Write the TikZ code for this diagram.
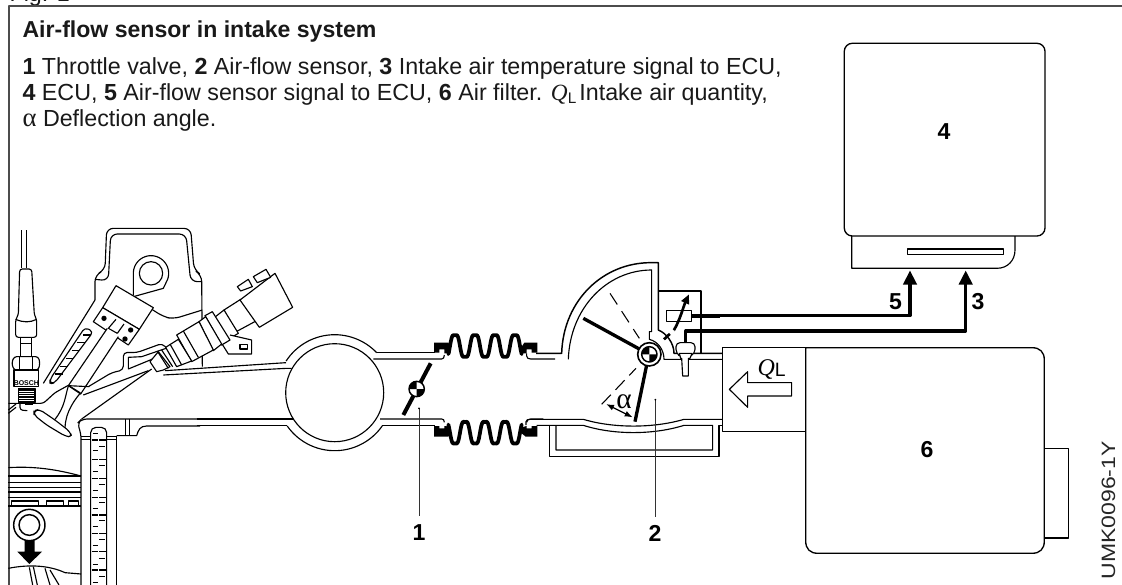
\documentclass[tikz,border=0pt]{standalone}
\usepackage{fontspec}
\setmainfont{Liberation Sans}
\newfontfamily\serifit{Liberation Serif}
\usetikzlibrary{arrows.meta}
\tikzset{
 zA/.style={shift={(0pt,-165pt)},x=.25pt,y=-.25pt},
 zB/.style={shift={(0pt,-300pt)},x=.25pt,y=-.25pt},
 zC/.style={shift={(195pt,-240pt)},x=.25pt,y=-.25pt},
 zD/.style={shift={(390pt,-187.5pt)},x=.25pt,y=-.25pt},
 zE/.style={shift={(0pt,-262.5pt)},x=.25pt,y=-.25pt},
 ln/.style={line width=.85pt,line join=round},
 fr/.style={line width=1.5pt,draw=black!70},
 wire/.style={line width=2.3pt,-{Triangle[length=10.5pt,width=10pt]}},
 wirep/.style={line width=2.3pt},
 num/.style={font=\fontsize{17.3}{17.3}\selectfont\bfseries,inner sep=0pt},
 txt/.style={font=\fontsize{17.45}{18}\selectfont,anchor=base west,inner sep=0pt,text=black!90},
 leader/.style={line width=.7pt,draw=black!80},
 bell/.style={line width=2.8pt,line cap=round},
 thickl/.style={line width=3pt},
}
\newcommand{\checker}[3]{%
 \fill[white] (#1,#2) circle[radius=#3];
 \fill plot[domain=90:180,samples=12] ({#1+#3*cos(\x)},{#2-#3*sin(\x)}) -- (#1,#2) -- cycle;
 \fill plot[domain=270:360,samples=12] ({#1+#3*cos(\x)},{#2-#3*sin(\x)}) -- (#1,#2) -- cycle;
 \draw[line width=1.1pt] (#1,#2) circle[radius=#3];
}
\begin{document}
\begin{tikzpicture}[x=.75pt,y=-.75pt,ln]
\useasboundingbox (0,0) rectangle (1122,585);
\begin{scope}
\clip (0,0) rectangle (1122,585);
\node[txt] (figlabel) at (9,1.5) {Fig. 1};
\draw[fr] (1122,6.5) -- (9,6.5) -- (9,585);

% texts
\node[txt,font=\fontsize{17.3}{18}\selectfont\bfseries] (title) at (22,37.5) {Air-flow sensor in intake system};
\node[txt] (l1) at (22,75) {\textbf{1} Throttle valve, \textbf{2} Air-flow sensor, \textbf{3} Intake air temperature signal to ECU,};
\node[txt] (l2) at (22,100.5) {\textbf{4} ECU, \textbf{5} Air-flow sensor signal to ECU, \textbf{6} Air filter. {\serifit\itshape Q}{\fontsize{11.5}{11.5}\selectfont\raisebox{-2pt}{L}}\hspace{-2.5pt} Intake air quantity,};
\node[txt] (l3) at (22,126.5) {{\serifit\fontsize{20}{20}\selectfont α} Deflection angle.};

% ECU
\draw[line width=1pt,rounded corners=6pt] (844.3,43.3) rectangle (1045,236);
\draw (851.7,236) -- (851.7,268.3) -- (997,268.3) .. controls (1008,268.3) and (1015,260) .. (1015,250) -- (1015,236);
\draw (907.3,249) rectangle (1003.3,254.3);
\node[num] (n4) at (944,132) {4};
% filter
\draw[line width=1pt] (805.7,347.7) -- (1032,347.7) .. controls (1040,347.7) and (1044.3,352) .. (1044.3,360) -- (1044.3,541) .. controls (1044.3,549) and (1040,553.3) .. (1032,553.3) -- (818,553.3) .. controls (810,553.3) and (805.7,549) .. (805.7,541) -- cycle;
\draw (722.5,347.7) rectangle (805.7,431.7);
\draw (1044.3,448.7) -- (1068.5,448.7) -- (1068.5,538) -- (1044.3,538);
\node[num] (n6) at (927,450) {6};
\begin{scope}[shift={(525pt,-247.5pt)},x=.25pt,y=-.25pt]
 \draw (88,178) -- (143,125) -- (143,158) -- (275,158) -- (275,198) -- (143,198) -- (143,232) -- cycle;
\end{scope}
\node[inner sep=0pt,anchor=base west] (ql) at (757,375) {\fontsize{18}{18}\serifit\itshape Q\fontsize{14.5}{14.5}\normalfont\raisebox{-1pt}{L}};
\node[rotate=90,anchor=base west,inner sep=0pt,font=\fontsize{14.5}{14.5}\selectfont,text=black!85] (code) at (1115,580) {\scalebox{1.19}[1]{UMK0096-1Y}};

% wires
\coordinate (w5a) at (692,315.7);
\coordinate (w5b) at (910,315.7);
\coordinate (w5c) at (910,270.5);
\coordinate (w3a) at (685.7,331);
\coordinate (w3b) at (965.7,331);
\coordinate (w3c) at (965.7,270.5);
\draw[wire] (w5a) -- (w5b) -- (w5c);
\draw[wire] (w3a) -- (w3b) -- (w3c);
\node[num] (n5) at (895.5,302) {5};
\node[num] (n3) at (978,302) {3};

% engine (zoom A frame)
\begin{scope}[zA]
 % cam cover
 \draw[rounded corners=5pt] (285,240) -- (285,165) -- (315,150) -- (320,25) -- (572,25) -- (582,150) -- (605,165) -- (607,440);
 \draw[rounded corners=5pt] (285,178) -- (325,182) -- (332,42) -- (558,42) -- (572,185) -- (605,185);
 \draw (285,240) -- (130,490);
 \draw (400,225) -- (400,160) plot[domain=180:-20,samples=30] ({453+53*cos(\x)},{160-53*sin(\x)}) -- (490,205) -- (400,230);
 \draw (453,160) circle[radius=35];
 \draw[rounded corners=5pt] (440,258) -- (490,290) -- (520,297) -- (607,270);
 % upper port
 \draw (490,465) -- (860,445) -- (875,445);
 \draw (495,452) -- (858,428);
 \draw (245,597) -- (455,447);
 \draw (250,525) -- (445,452);
 \draw[rounded corners=3pt] (265,500) -- (335,458) -- (370,450) -- (370,397) -- (410,398) -- (487,370) -- (500,385);
 \draw (385,447) -- (385,412) -- (425,410) -- (498,385);
 \draw (385,447) -- (470,412);
 % injector left
 \draw[fill=white] (348,197) -- (460,263) -- (418,328) -- (308,263) -- cycle;
 \draw[fill=white] (308,263) -- (418,328) -- (385,375) -- (280,305) -- cycle;
 \fill (312,295) circle[radius=8] (392,330) circle[radius=8] (375,357) circle[radius=8];
 \draw (348,298) -- (325,325) (372,312) -- (352,340) (352,340) -- (325,325);
 \draw[fill=white] (322,325) -- (205,497) -- (242,522) -- (355,350);
 \draw (268,500) -- (205,497);
 % scale tube
 \draw[rounded corners=3pt,fill=white] (255,322) -- (280,335) -- (165,488) -- (150,492) -- (150,478) -- cycle;
 \foreach \y/\a/\b in {345/250/272,368/232/255,392/215/238,415/198/220,440/180/205,462/165/188}
   \draw (\a,\y) -- (\b,\y);
 % fuel injector right
 \draw[fill=white] (672,270) -- (722,238) -- (768,303) -- (705,337) -- cycle;
 \draw[fill=white] (720,240) -- (825,160) -- (878,262) -- (778,322) -- cycle;
 \draw[fill=white] (712,200) -- (745,178) -- (757,200) -- (722,213) -- cycle;
 \draw[fill=white] (760,170) -- (798,148) -- (812,172) -- (772,188) -- cycle;
 \draw[fill=white] (640,295) -- (672,270) -- (715,340) -- (665,370) -- cycle;
 \draw[fill=white] (690,345) -- (755,360) -- (755,402) -- (685,402) -- (665,370);
 \draw (720,373) rectangle (742,387);
 \draw[fill=white] (615,287) -- (637,275) -- (690,360) -- (665,375) -- cycle;
 \draw[fill=white] (597,305) -- (617,290) -- (665,372) -- (640,392) -- cycle;
 \draw[fill=white] (530,345) -- (597,305) -- (640,390) -- (575,425) -- cycle;
 \draw (550,333) -- (595,412);
 \draw[fill=white] (497,382) -- (535,358) -- (575,423) -- (530,440) -- cycle;
 \draw (510,372) -- (545,435);
 \draw[fill=white] (450,425) -- (475,395) -- (510,440) -- (490,450) -- (470,455) -- cycle;
 \draw (485,390) -- (518,440) (475,398) -- (505,445);
 % spark plug
 \draw (65,30) -- (65,145) (80,30) -- (80,145);
 \draw[rounded corners=2pt,fill=white] (47,352) -- (47,298) -- (55,285) -- (59,147) -- (95,147) -- (103,285) -- (110,298) -- (110,352) -- cycle;
 \draw (47,298) .. controls (70,308) and (90,308) .. (110,298);
 \draw[fill=white] (62,352) rectangle (95,410);
 \draw (62,370) -- (95,370);
 \draw[rounded corners=2pt,fill=white] (42,410) -- (115,410) -- (120,430) -- (115,450) -- (42,450) -- (35,430) -- cycle;
 \draw (58,412) -- (58,448) (98,412) -- (98,448);
 \draw[fill=white] (42,450) rectangle (115,500);
 \node[inner sep=0pt,font=\fontsize{5.2}{5.2}\selectfont\bfseries] (bosch) at (79,489) {BOSCH};
 \draw[fill=white] (55,505) rectangle (105,547);
 \foreach \y in {510,517,524,531,538,545} \draw[line width=.9pt] (55,\y) -- (105,\y);
 \draw[rounded corners=2pt] (60,548) -- (60,570) -- (82,572);
 \draw (75,553) -- (100,553);
\end{scope}

% valve area (zoom E frame)
\begin{scope}[zE]
 \draw[rounded corners=2pt] (25,160) -- (130,160) -- (165,128) -- (205,106);
 \draw (205,106) -- (240,128);
 \draw (205,108) .. controls (195,140) and (195,170) .. (165,208);
 \draw (242,128) .. controls (215,160) and (190,200) .. (196,252);
 \draw[rounded corners=3pt,fill=white] (102,182) -- (118,178) -- (165,210) -- (210,245) -- (216,262) -- (195,258) -- (140,225) -- (102,195) -- cycle;
 \draw (25,180) -- (48,162) (25,190) -- (48,172);
\end{scope}

% cylinder (zoom B frame)
\begin{scope}[zB]
 \draw[rounded corners=4pt] (600,57) -- (245,57) -- (232,70) -- (243,100) -- (243,555);
 \draw (243,110) -- (350,110) (243,118) -- (350,118) (350,110) -- (350,555);
 \draw (350,107) -- (410,107) .. controls (415,90) and (420,78) .. (440,78) -- (600,78);
 \draw (376,57) -- (376,107) (388,57) -- (388,107);
 \draw[rounded corners=4pt,fill=white] (272,590) -- (272,82) -- (320,82) -- (320,590);
 \foreach \y in {120,178,235,292,345,400,455,510} \draw (275,\y) -- (295,\y) (298,\y) -- (318,\y);
 \foreach \y in {101,150,214,272,326,380,437,492,548} \draw[line width=.7pt] (278,\y) -- (294,\y);
 \foreach \y in {140,196,254,308,362,418,475,530} \draw[line width=.7pt] (298,\y) -- (316,\y);
 % piston
 \draw (25,203) .. controls (100,198) and (170,208) .. (243,228);
 \draw (25,228) -- (243,228) (25,263) -- (243,263) (25,276) -- (243,276) (25,318) -- (243,318);
 \draw[line width=1.2pt] (25,247) -- (243,247);
 \draw[line width=1.2pt] (25,292) -- (243,292);
 \draw (35,303) rectangle (115,316) (140,303) rectangle (190,316) (205,303) rectangle (235,316);
 \draw[line width=1.1pt] (88,375) circle[radius=47] (88,375) circle[radius=31];
 \fill (74,420) -- (104,420) -- (104,455) -- (126,455) -- (88,492) -- (52,455) -- (74,455) -- cycle;
 \draw (25,505) .. controls (90,492) and (150,497) .. (195,518) -- (243,522);
 \draw (88,502) -- (98,555) (100,500) -- (112,555) (135,505) -- (150,555) (150,510) -- (177,555);
\end{scope}

% manifold
\draw plot[domain=147:43.6,samples=30] ({334.7+58*cos(\x)},{392.7-58*sin(\x)});
\draw plot[domain=215:325,samples=30] ({334.7+58*cos(\x)},{392.7-58*sin(\x)});
\draw (334.7,392.7) circle[radius=49];
\begin{scope}[zC]
 \draw (-190,297) -- (100,297);
 \draw (-190,317) -- (80,317);
 % pipe
 \draw[line width=1.2pt] (350,98) -- (525,98);
 \draw (340,117) -- (545,117) .. controls (550,117) and (553,113) .. (553,105);
 \draw (360,297) -- (545,297) .. controls (550,297) and (553,300) .. (553,307);
 \draw[line width=1.2pt] (365,317) -- (525,317);
 % bellows
 \fill (522,68) -- (565,68) -- (572,78) -- (572,100) -- (553,100) -- (553,88) -- (538,88) -- (538,98) -- (522,98) -- cycle;
 \fill (793,68) -- (832,68) -- (832,98) -- (815,98) -- (815,88) -- (800,88) -- (800,100) -- (785,100) -- (785,80) -- cycle;
 \fill (522,318) -- (538,318) -- (538,325) -- (553,325) -- (553,318) -- (572,320) -- (572,340) -- (565,350) -- (522,350) -- cycle;
 \fill (832,318) -- (815,318) -- (815,325) -- (800,325) -- (800,318) -- (785,322) -- (785,340) -- (797,350) -- (832,350) -- cycle;
 \draw[bell] plot[domain=565:785,samples=90] (\x,{78-32*(cos(6*(\x-585))-.15*cos(18*(\x-585)))/.85});
 \draw[bell] plot[domain=565:785,samples=90] (\x,{338+32*(cos(6*(\x-585))-.15*cos(18*(\x-585)))/.85});
 \draw (800,100) -- (800,108) .. controls (800,114) and (805,117) .. (812,117) -- (885,117);
 \draw (800,307) .. controls (800,300) and (805,297) .. (812,297) -- (850,297);
 % throttle
 \draw[thickl] (512,130) -- (430,285);
 \checker{470}{207}{23}
 \draw[leader] (477,265) -- (477,588);
 \fill (477,265) circle[radius=3];
\end{scope}

% air-flow sensor (zoom D frame)
\begin{scope}[zD]
 \draw[line width=1.1pt] (48,310) -- (125,310) .. controls (130,150) and (250,38) .. (392,38) -- (415,38) -- (415,240) .. controls (440,250) and (462,280) .. (462,310) -- (608,310);
 \draw (145,328) .. controls (150,175) and (260,60) .. (395,60) -- (395,245) -- (388,245) -- (388,268) .. controls (415,275) and (432,300) .. (432,328) -- (608,328);
 \draw (415,123) -- (543,123) -- (543,310);
 \draw[fill=white] (440,182) rectangle (515,215);
 \draw[wirep] (515,198) -- (600,198);
 \draw[wirep] (497,275) -- (497,243) -- (600,243);
 \draw[line width=2pt,dash pattern=on 6pt off 4pt] (432,268) -- (462,240);
 \draw[line width=2pt,-{Triangle[length=7pt,width=6pt]}] (462,240) .. controls (480,210) and (490,170) .. (507,133);
 \draw[fill=white,rounded corners=3pt] (468,310) -- (468,278) -- (525,278) -- (525,310) -- (505,322) -- (485,322) -- cycle;
 \draw[fill=white] (478,310) -- (516,310) -- (510,325) -- (505,325) -- (505,378) -- (488,378) -- (485,325) -- (482,325) -- cycle;
 % lower duct
 \draw (18,525) -- (18,515) .. controls (18,510) and (24,508) .. (30,508) -- (190,508) .. controls (280,535) and (400,535) .. (492,508) -- (608,508);
 \draw (50,526) -- (190,526) .. controls (280,555) and (400,555) .. (492,526) -- (578,526) -- (578,600) -- (108,600) -- (108,526);
 \draw (88,526) -- (88,620) -- (597,620) -- (597,526) -- (608,526);
 % flap
 \draw[line width=2.5pt] (190,205) -- (358,297);
 \draw[line width=2.5pt] (380,345) -- (345,515);
 \draw[line width=.8pt,dash pattern=on 10pt off 6pt] (270,130) -- (358,265);
 \draw[line width=.8pt,dash pattern=on 10pt off 5pt] (245,463) -- (348,355);
 \draw[line width=.9pt,{Latex[length=6pt,width=4.5pt]}-{Latex[length=6pt,width=4.5pt]}] (258,462) -- (338,502);
 \node[inner sep=0pt,font=\fontsize{22}{22}\serifit] (alpha) at (312,456) {α};
 % pivot
 \draw[fill=white,line width=1.2pt] (388,313) circle[radius=35];
 \checker{388}{313}{23}
 \draw[leader] (406,449) -- (406,800);
 \fill (406,449) circle[radius=3];
\end{scope}
\node[num] (n2) at (655,533) {2};
\node[num] (n1) at (419,533) {1};
\end{scope}
\end{tikzpicture}
\end{document}
